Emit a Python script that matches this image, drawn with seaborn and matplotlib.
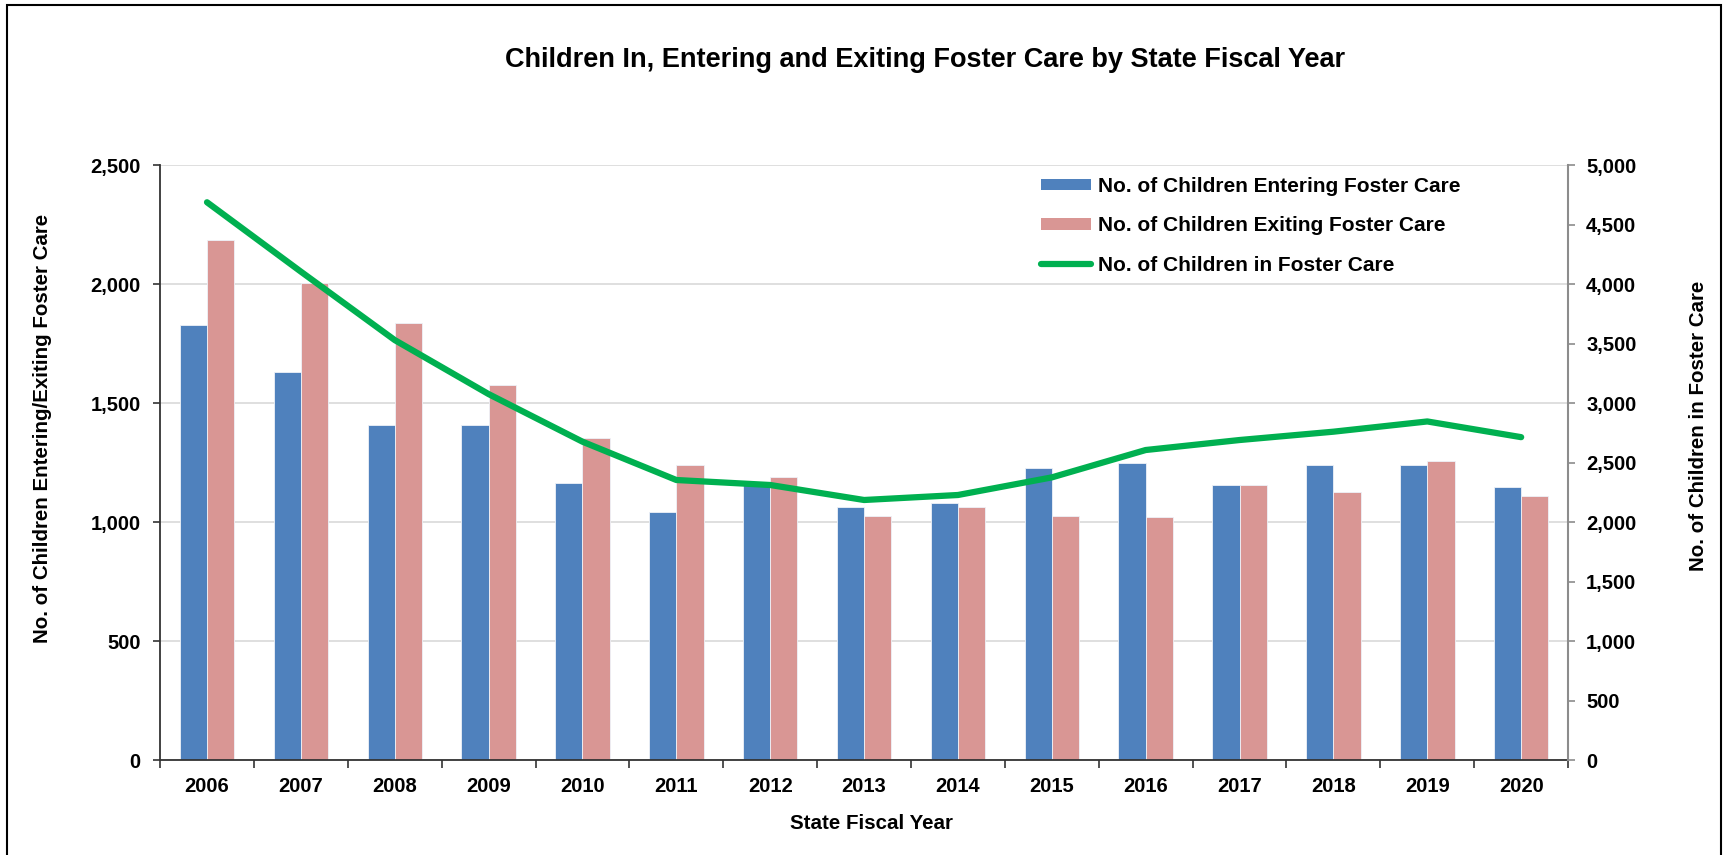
import numpy as np
import pandas as pd
import matplotlib
matplotlib.use("Agg")
import matplotlib.pyplot as plt
import seaborn as sns
from matplotlib.ticker import FuncFormatter, FixedLocator, MultipleLocator
from matplotlib.patches import Rectangle, Patch
from matplotlib.lines import Line2D

# ---- data ----
years = [2006, 2007, 2008, 2009, 2010, 2011, 2012, 2013, 2014, 2015, 2016, 2017, 2018, 2019, 2020]
entering = [1826, 1629, 1406, 1406, 1164, 1043, 1163, 1064, 1080, 1227, 1248, 1154, 1238, 1238, 1148]
exiting = [2185, 2003, 1835, 1576, 1354, 1238, 1190, 1027, 1064, 1027, 1021, 1154, 1127, 1258, 1110]
in_care = [4687, 4104, 3529, 3075, 2675, 2353, 2311, 2185, 2227, 2375, 2605, 2689, 2759, 2845, 2713]

lab_enter = "No. of Children Entering Foster Care"
lab_exit = "No. of Children Exiting Foster Care"
lab_care = "No. of Children in Foster Care"
title = "Children In, Entering and Exiting Foster Care by State Fiscal Year"
xlabel = "State Fiscal Year"
ylabel_left = "No. of Children Entering/Exiting Foster Care"
ylabel_right = "No. of Children in Foster Care"

c_blue = "#4F81BD"
c_pink = "#D99694"
c_green = "#00B050"

sns.set_theme(style="white")
plt.rcParams["font.family"] = ["Liberation Sans", "DejaVu Sans"]
plt.rcParams["font.weight"] = "bold"
plt.rcParams["text.color"] = "black"
plt.rcParams["axes.labelcolor"] = "black"
plt.rcParams["xtick.color"] = "black"
plt.rcParams["ytick.color"] = "black"

df = pd.DataFrame({
    "year": [str(y) for y in years] * 2,
    "value": entering + exiting,
    "series": [lab_enter] * len(years) + [lab_exit] * len(years),
})

fig = plt.figure(figsize=(17.23, 8.55), dpi=100)
ax = fig.add_axes([0.0929, 0.1111, 0.8172, 0.6959])

sns.barplot(data=df, x="year", y="value", hue="series",
            palette=[c_blue, c_pink], saturation=1, width=0.58, ax=ax,
            edgecolor="#eef2f8", linewidth=0.6, legend=False)

ax.set_xlim(-0.5, len(years) - 0.5)
ax.set_ylim(0, 2500)
ax.yaxis.set_major_locator(MultipleLocator(500))
ax.yaxis.set_major_formatter(FuncFormatter(lambda v, p: f"{int(v):,}"))
ax.grid(axis="y", color="#d9d9d9", linewidth=1.2)
ax.set_axisbelow(True)
ax.set_xlabel("")
ax.set_ylabel("")

for s in ["top", "right"]:
    ax.spines[s].set_visible(False)
ax.spines["left"].set_color("#333333")
ax.spines["bottom"].set_color("#333333")
ax.spines["left"].set_linewidth(1.3)
ax.spines["bottom"].set_linewidth(1.3)

ax.tick_params(axis="y", which="major", length=5, width=1.2, color="#333333",
               pad=9, labelsize=14.5, left=True)
ax.tick_params(axis="x", which="major", length=0, pad=12, labelsize=14.5)
ax.xaxis.set_minor_locator(FixedLocator(np.arange(-0.5, len(years), 1.0)))
ax.tick_params(axis="x", which="minor", length=6, width=1.2, color="#333333", bottom=True)
for t in ax.get_xticklabels() + ax.get_yticklabels():
    t.set_fontweight("bold")
    t.set_color("black")

ax2 = ax.twinx()
sns.lineplot(x=np.arange(len(years)), y=in_care, ax=ax2, color=c_green,
             linewidth=4.5, solid_capstyle="round", solid_joinstyle="round")
ax2.set_ylim(0, 5000)
ax2.set_xlim(-0.5, len(years) - 0.5)
ax2.yaxis.set_major_locator(MultipleLocator(500))
ax2.yaxis.set_major_formatter(FuncFormatter(lambda v, p: f"{int(v):,}"))
ax2.grid(False)
for s in ["top", "left", "bottom"]:
    ax2.spines[s].set_visible(False)
ax2.spines["right"].set_color("#8c8c8c")
ax2.spines["right"].set_linewidth(1.5)
ax2.tick_params(axis="y", length=5, width=1.2, color="#8c8c8c", pad=8,
                labelsize=14.5, right=True)
for t in ax2.get_yticklabels():
    t.set_fontweight("bold")
    t.set_color("black")
ax2.set_ylabel("")

handles = [Patch(facecolor=c_blue, edgecolor="none"),
           Patch(facecolor=c_pink, edgecolor="none"),
           Line2D([0], [0], color=c_green, linewidth=4.5, solid_capstyle="round")]
leg = ax2.legend(handles, [lab_enter, lab_exit, lab_care], loc="upper left",
                 bbox_to_anchor=(0.626, 0.98), frameon=False, borderpad=0,
                 borderaxespad=0, handlelength=2.4, handleheight=0.5,
                 handletextpad=0.3, labelspacing=0.98,
                 prop={"size": 15, "weight": "bold"}, labelcolor="black")

fig.text(0.537, 0.93, title, ha="center", va="center", fontsize=19.5,
         fontweight="bold", color="black")
fig.text(0.506, 0.0374, xlabel, ha="center", va="center", fontsize=14.8,
         fontweight="bold", color="black")
fig.text(0.0244, 0.4994, ylabel_left, ha="center", va="center", rotation=90,
         fontsize=14.8, fontweight="bold", color="black")
fig.text(0.9855, 0.5018, ylabel_right, ha="center", va="center", rotation=90,
         fontsize=14.8, fontweight="bold", color="black")

fig.patches.append(Rectangle((0.004, -0.05), 0.9948, 1.044, transform=fig.transFigure,
                             fill=False, edgecolor="black", linewidth=1.5))

fig.savefig("out.png", dpi=100)
